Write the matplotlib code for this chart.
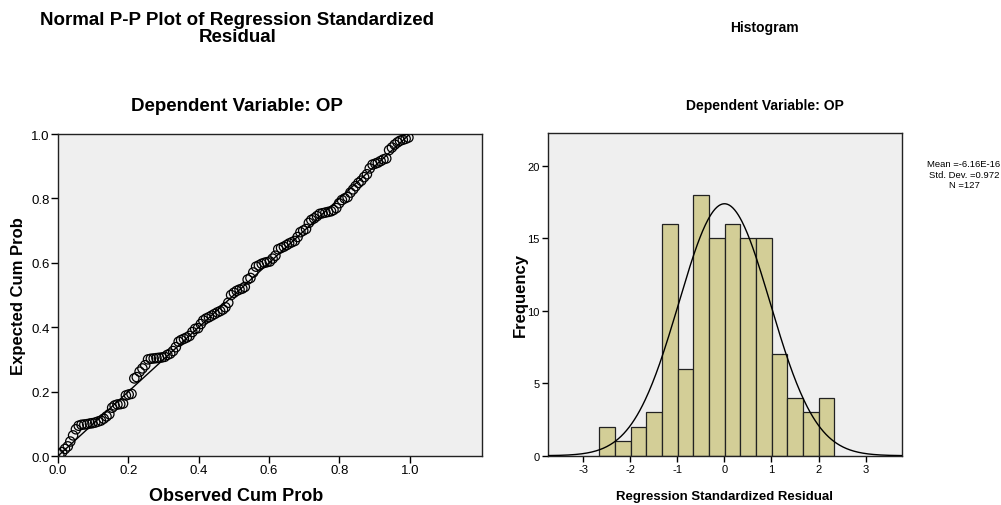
import numpy as np
import matplotlib
matplotlib.use("Agg")
import matplotlib.pyplot as plt

plt.rcParams["axes.unicode_minus"] = False

# P-P plot: observed vs expected cumulative probability (127 residuals)
observed_cum = [
    0.004, 0.012, 0.020, 0.028, 0.035, 0.043, 0.051, 0.059, 0.067, 0.075,
    0.083, 0.091, 0.098, 0.106, 0.114, 0.122, 0.130, 0.138, 0.146, 0.154,
    0.161, 0.169, 0.177, 0.185, 0.193, 0.201, 0.209, 0.217, 0.224, 0.232,
    0.240, 0.248, 0.256, 0.264, 0.272, 0.280, 0.287, 0.295, 0.303, 0.311,
    0.319, 0.327, 0.335, 0.343, 0.350, 0.358, 0.366, 0.374, 0.382, 0.390,
    0.398, 0.406, 0.413, 0.421, 0.429, 0.437, 0.445, 0.453, 0.461, 0.469,
    0.476, 0.484, 0.492, 0.500, 0.508, 0.516, 0.524, 0.531, 0.539, 0.547,
    0.555, 0.563, 0.571, 0.579, 0.587, 0.594, 0.602, 0.610, 0.618, 0.626,
    0.634, 0.642, 0.650, 0.657, 0.665, 0.673, 0.681, 0.689, 0.697, 0.705,
    0.713, 0.720, 0.728, 0.736, 0.744, 0.752, 0.760, 0.768, 0.776, 0.783,
    0.791, 0.799, 0.807, 0.815, 0.823, 0.831, 0.839, 0.846, 0.854, 0.862,
    0.870, 0.878, 0.886, 0.894, 0.902, 0.909, 0.917, 0.925, 0.933, 0.941,
    0.949, 0.957, 0.965, 0.972, 0.980, 0.988, 0.996,
]
expected_cum = [
    0.005, 0.012, 0.022, 0.030, 0.045, 0.064, 0.083, 0.094, 0.097, 0.098,
    0.099, 0.101, 0.102, 0.104, 0.107, 0.110, 0.116, 0.123, 0.130, 0.150,
    0.157, 0.160, 0.161, 0.163, 0.188, 0.191, 0.193, 0.241, 0.245, 0.262,
    0.272, 0.282, 0.300, 0.302, 0.303, 0.304, 0.305, 0.306, 0.308, 0.314,
    0.318, 0.326, 0.338, 0.355, 0.360, 0.364, 0.368, 0.373, 0.385, 0.395,
    0.397, 0.410, 0.421, 0.427, 0.431, 0.436, 0.441, 0.446, 0.450, 0.455,
    0.462, 0.476, 0.500, 0.507, 0.513, 0.517, 0.520, 0.525, 0.548, 0.553,
    0.570, 0.588, 0.592, 0.597, 0.600, 0.602, 0.604, 0.613, 0.622, 0.642,
    0.646, 0.650, 0.655, 0.660, 0.664, 0.668, 0.680, 0.695, 0.700, 0.705,
    0.724, 0.733, 0.738, 0.745, 0.752, 0.754, 0.756, 0.758, 0.760, 0.764,
    0.770, 0.785, 0.795, 0.800, 0.804, 0.818, 0.828, 0.838, 0.848, 0.855,
    0.866, 0.875, 0.893, 0.905, 0.908, 0.911, 0.916, 0.921, 0.924, 0.950,
    0.958, 0.967, 0.974, 0.979, 0.982, 0.985, 0.989,
]

# Histogram of standardized residuals
bin_start = -2.66
bin_width = 1 / 3
counts = [2, 1, 2, 3, 16, 6, 18, 15, 16, 15, 15, 7, 4, 3, 4]
resid_mean = -6.16e-16
resid_sd = 0.972
n_obs = 127

bg = "#efefef"
bar_color = "#d3ce97"
sans = "Liberation Sans"

fig = plt.figure(figsize=(10.01, 5.06), dpi=100)

# ---- left: P-P plot ----
ax1 = fig.add_axes([0.0579, 0.0968, 0.4236, 0.6364])
ax1.set_facecolor(bg)
ax1.plot([0, 1], [0, 1], color="black", lw=1.0, zorder=2)
ax1.scatter(observed_cum, expected_cum, s=45, facecolors="none",
            edgecolors="black", linewidths=0.9, zorder=3)
ax1.set_xlim(0, 1.205)
ax1.set_ylim(0, 1.0)
ax1.set_xticks([0, 0.2, 0.4, 0.6, 0.8, 1.0])
ax1.set_yticks([0, 0.2, 0.4, 0.6, 0.8, 1.0])
ax1.xaxis.set_major_formatter(matplotlib.ticker.FormatStrFormatter("%.1f"))
ax1.yaxis.set_major_formatter(matplotlib.ticker.FormatStrFormatter("%.1f"))
ax1.tick_params(direction="out", length=5, width=1, labelsize=9.5, pad=1)
for lab in ax1.get_xticklabels() + ax1.get_yticklabels():
    lab.set_family(sans)
for sp in ax1.spines.values():
    sp.set_color("#222222")
    sp.set_linewidth(1)
ax1.set_xlabel("Observed Cum Prob", fontsize=13, family=sans, weight="bold")
ax1.set_ylabel("Expected Cum Prob", fontsize=12, family=sans, weight="bold")
ax1.xaxis.set_label_coords(0.42, -0.124)
ax1.xaxis.label.set_va("center")
ax1.yaxis.set_label_coords(-0.094, 0.5)
ax1.yaxis.label.set_va("center")

fig.text(0.237, 0.942, "Normal P-P Plot of Regression Standardized\nResidual",
         ha="center", va="center", fontsize=13.5, linespacing=1.0,
         family=sans, weight="bold")
fig.text(0.237, 0.789, "Dependent Variable: OP", ha="center", va="center",
         fontsize=13.5, family=sans, weight="bold")

# ---- right: histogram ----
ax2 = fig.add_axes([0.5472, 0.0974, 0.3536, 0.6377])
ax2.set_facecolor(bg)
edges = bin_start + bin_width * np.arange(len(counts) + 1)
ax2.bar(edges[:-1], counts, width=bin_width, align="edge", color=bar_color,
        edgecolor="#222222", linewidth=0.9, zorder=2)
xs = np.linspace(-3.8, 3.8, 400)
curve = n_obs * bin_width * np.exp(-0.5 * ((xs - resid_mean) / resid_sd) ** 2) / (resid_sd * np.sqrt(2 * np.pi))
ax2.plot(xs, curve, color="black", lw=1.0, zorder=3)
ax2.set_xlim(-3.76, 3.77)
ax2.set_ylim(0, 22.25)
ax2.set_xticks([-3, -2, -1, 0, 1, 2, 3])
ax2.set_yticks([0, 5, 10, 15, 20])
ax2.tick_params(direction="out", length=4, width=1, labelsize=8, pad=2)
for lab in ax2.get_xticklabels() + ax2.get_yticklabels():
    lab.set_family(sans)
for sp in ax2.spines.values():
    sp.set_color("#222222")
    sp.set_linewidth(1)
ax2.set_xlabel("Regression Standardized Residual", fontsize=9.5,
               family=sans, weight="bold")
ax2.set_ylabel("Frequency", fontsize=12, family=sans, weight="bold")
ax2.xaxis.set_label_coords(0.5, -0.125)
ax2.xaxis.label.set_va("center")
ax2.yaxis.set_label_coords(-0.078, 0.5)
ax2.yaxis.label.set_va("center")

fig.text(0.764, 0.945, "Histogram", ha="center", va="center", fontsize=10,
         family=sans, weight="bold")
fig.text(0.764, 0.791, "Dependent Variable: OP", ha="center", va="center",
         fontsize=10, family=sans, weight="bold")
fig.text(0.963, 0.654,
         "Mean =%.2E\nStd. Dev. =%.3f\nN =%d" % (resid_mean, resid_sd, n_obs),
         ha="center", va="center", fontsize=6.8, family=sans,
         linespacing=1.25)

fig.savefig("out.png", dpi=100)
